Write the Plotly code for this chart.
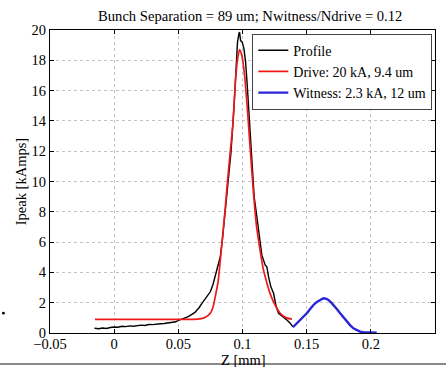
import plotly.graph_objects as go

# Measured longitudinal current profile (z in mm, current in kA)
profile_z = [-0.0153, -0.012, -0.009, -0.006, -0.003, 0.000, 0.003, 0.006, 0.009, 0.012,
             0.015, 0.018, 0.021, 0.024, 0.027, 0.030, 0.033, 0.036, 0.039, 0.042,
             0.045, 0.048, 0.050, 0.052, 0.054, 0.0568, 0.059, 0.061, 0.063, 0.0645,
             0.066, 0.0684, 0.070, 0.072, 0.0749, 0.077, 0.0788, 0.081, 0.0827, 0.0845,
             0.0866, 0.0891, 0.091, 0.0933, 0.0951, 0.0961, 0.0972, 0.0977, 0.0985, 0.0998,
             0.1011, 0.1024, 0.1037, 0.105, 0.1063, 0.1075, 0.1091, 0.1112, 0.1138, 0.1151,
             0.1177, 0.119, 0.1203, 0.1221, 0.1242, 0.1263, 0.1281, 0.132, 0.1346, 0.1372,
             0.1393]
profile_i = [0.31, 0.28, 0.33, 0.30, 0.36, 0.40, 0.38, 0.44, 0.42, 0.47,
             0.45, 0.50, 0.52, 0.50, 0.56, 0.55, 0.60, 0.61, 0.63, 0.66,
             0.70, 0.74, 0.83, 0.88, 0.95, 1.05, 1.15, 1.28, 1.36, 1.52,
             1.65, 1.96, 2.15, 2.40, 2.72, 3.20, 3.82, 4.40, 5.03, 6.30,
             8.10, 10.3, 11.9, 14.8, 17.7, 19.2, 19.76, 19.86, 19.3, 19.2,
             18.77, 17.9, 16.35, 14.37, 12.4, 10.8, 8.99, 7.67, 5.91, 5.14,
             4.48, 4.37, 3.71, 3.05, 2.62, 1.73, 1.30, 1.07, 0.86, 0.64,
             0.40]

# Drive bunch fit
drive_z = [-0.015, 0.000, 0.020, 0.040, 0.055, 0.065, 0.070, 0.073, 0.0749, 0.077,
           0.0788, 0.081, 0.0827, 0.0845, 0.0866, 0.0885, 0.0905, 0.0925, 0.0945, 0.0960,
           0.0977, 0.0995, 0.1015, 0.1037, 0.1063, 0.1085, 0.111, 0.1138, 0.116, 0.119,
           0.1215, 0.1242, 0.127, 0.1294, 0.132, 0.135, 0.1385]
drive_i = [0.90, 0.90, 0.90, 0.90, 0.90, 0.92, 1.00, 1.15, 1.30, 1.70,
           2.40, 3.40, 4.80, 6.40, 8.30, 10.2, 12.0, 13.8, 16.6, 18.0,
           18.7, 18.3, 17.1, 14.9, 11.8, 9.3, 7.0, 5.4, 4.3, 3.3,
           2.6, 2.05, 1.6, 1.3, 1.1, 0.98, 0.92]

# Witness bunch
witness_z = [0.1393, 0.142, 0.1449, 0.1475, 0.1501, 0.1527, 0.1553, 0.158, 0.1605, 0.163,
             0.165, 0.167, 0.169, 0.1709, 0.1735, 0.1761, 0.1787, 0.1813, 0.1838, 0.1864,
             0.189, 0.1916, 0.1942, 0.1968, 0.200, 0.2046]
witness_i = [0.38, 0.60, 0.86, 1.08, 1.30, 1.58, 1.85, 2.05, 2.18, 2.29,
             2.27, 2.18, 2.02, 1.85, 1.58, 1.30, 1.02, 0.75, 0.52, 0.31,
             0.18, 0.09, 0.06, 0.05, 0.03, 0.02]

series_names = ["Profile", "Drive: 20 kA, 9.4 um", "Witness: 2.3 kA, 12 um"]
x_ticks = [-0.05, 0, 0.05, 0.1, 0.15, 0.2, 0.25]
x_tick_text = ["\u22120.05", "0", "0.05", "0.1", "0.15", "0.2", "0.25"]
y_ticks = [0, 2, 4, 6, 8, 10, 12, 14, 16, 18, 20]

FONT = "'Liberation Serif', 'Times New Roman', serif"
label_font = dict(family=FONT, size=14.5, color="black")

fig = go.Figure()
fig.add_trace(go.Scatter(x=profile_z, y=profile_i, mode="lines", name=series_names[0],
                         line=dict(color="black", width=1.4)))
fig.add_trace(go.Scatter(x=drive_z, y=drive_i, mode="lines", name=series_names[1],
                         line=dict(color="#ee1a1a", width=1.7, shape="spline", smoothing=0.6)))
fig.add_trace(go.Scatter(x=witness_z, y=witness_i, mode="lines", name=series_names[2],
                         line=dict(color="#2a25d6", width=2.4)))

axis_common = dict(showline=True, linecolor="black", linewidth=1, mirror="ticks",
                   ticks="inside", ticklen=4, tickcolor="black", automargin=False,
                   showgrid=True, gridcolor="#c4c4c4", griddash="dot", gridwidth=1,
                   zeroline=False, tickfont=label_font)

fig.update_xaxes(range=[-0.05, 0.25], tickvals=x_ticks, ticktext=x_tick_text,
                 ticklabelstandoff=-2, **axis_common)
fig.update_yaxes(range=[0, 20], tickvals=y_ticks, **axis_common)

fig.update_layout(
    width=446, height=367,
    margin=dict(l=49.5, r=11, t=29.5, b=34),
    paper_bgcolor="white", plot_bgcolor="white",
    title=dict(text="Bunch Separation = 89 um; Nwitness/Ndrive = 0.12",
               font=dict(family=FONT, size=14.6, color="black"),
               x=0.52, xref="paper", xanchor="center", y=0.958, yanchor="middle"),
    showlegend=True,
    legend=dict(x=0.993, y=0.988, xanchor="right", yanchor="top",
                bgcolor="white", bordercolor="#444444", borderwidth=1,
                font=dict(family=FONT, size=14, color="black"),
                tracegroupgap=0, itemwidth=30),
    annotations=[
        # axis titles
        dict(text="Z [mm]", xref="paper", yref="paper", x=0.502, y=-0.089,
             xanchor="center", yanchor="middle", showarrow=False, font=label_font),
        dict(text="Ipeak [kAmps]", xref="paper", yref="paper", x=-0.076, y=0.5,
             xanchor="center", yanchor="middle", textangle=-90, showarrow=False,
             font=label_font),
    ],
    shapes=[
        dict(type="line", xref="paper", yref="paper", x0=-0.13, x1=1.03,
             y0=-0.102, y1=-0.102, line=dict(color="#8a8a8a", width=2)),
        dict(type="circle", xref="paper", yref="paper", x0=-0.1245, x1=-0.1175,
             y0=0.061, y1=0.070, fillcolor="black", line=dict(color="black", width=0)),
    ],
)

fig.write_html("out.html")
